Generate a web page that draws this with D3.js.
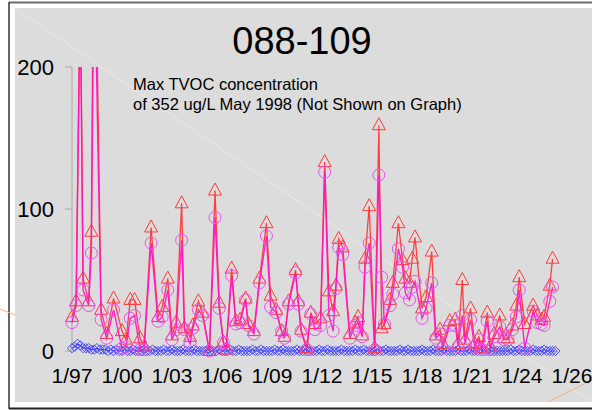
<!DOCTYPE html>
<html>
<head>
<meta charset="utf-8">
<script src="https://cdn.jsdelivr.net/npm/d3@7"></script>
<style>
  html, body { margin: 0; padding: 0; background: #fff; }
  svg { display: block; font-family: "Liberation Sans", Arial, sans-serif; }
</style>
</head>
<body>
<div id="chart"></div>
<script>
// Sampling dates shared by the two upper series
const sampleDates = [
  "1997-01","1997-04","1997-07","1997-09","1998-01","1998-03","1998-05","1998-10","1999-02","1999-07",
  "2000-01","2000-04","2000-07","2000-10","2001-02","2001-05","2001-10","2002-03","2002-06","2002-10",
  "2003-01","2003-04","2003-08","2003-10","2004-02","2004-04","2004-08","2004-11","2005-04","2005-08",
  "2005-11","2006-02","2006-04","2006-08","2006-11","2007-02","2007-06","2007-08","2007-12","2008-04",
  "2008-09","2008-12","2009-04","2009-08","2009-10","2010-01","2010-06","2010-08","2010-10","2011-02",
  "2011-05","2011-08","2011-12","2012-03","2012-06","2012-09","2012-11","2013-01","2013-04","2013-09",
  "2014-01","2014-03","2014-06","2014-08","2014-11","2015-03","2015-06","2015-08","2015-10","2016-02",
  "2016-04","2016-08","2016-11","2017-01","2017-04","2017-06","2017-08","2018-01","2018-04","2018-08",
  "2018-11","2019-02","2019-04","2019-09","2020-01","2020-03","2020-06","2020-08","2020-12","2021-03",
  "2021-06","2021-08","2021-12","2022-02","2022-05","2022-09","2022-12","2023-03","2023-06","2023-09",
  "2023-11","2024-03","2024-09","2024-12","2025-03","2025-05","2025-09","2025-11"
];
// red triangles
const triValues = [
  24, 35, 270, 51, 35, 84, 352, 29, 12, 37,
  14, 8, 36, 36, 9, 3, 87, 24, 31, 51,
  11, 20, 104, 16, 10, 18, 35, 27, 0, 113,
  34, 6, 1, 58, 21, 22, 37, 19, 14, 51,
  90, 39, 29, 14, 10, 35, 57, 35, 15, 2,
  27, 19, 23, 133, 42, 28, 46, 79, 73, 12,
  20, 24, 11, 65, 102, 2, 159, 16, 19, 36,
  48, 90, 64, 51, 48, 65, 80, 30, 38, 70,
  11, 15, 5, 21, 22, 5, 50, 8, 30, 5,
  10, 2, 27, 3, 12, 25, 9, 9, 18, 32,
  52, 19, 32, 25, 22, 24, 46, 65
];
// magenta circles
const circValues = [
  20, 32, 250, 43, 32, 69, 290, 22, 9, 29,
  2, 3, 23, 25, 1, 1, 76, 21, 24, 43,
  8, 15, 78, 15, 5, 16, 29, 25, 0, 94,
  30, 6, 1, 53, 19, 20, 36, 18, 12, 48,
  81, 31, 27, 14, 9, 33, 55, 33, 14, 1,
  26, 15, 18, 126, 25, 14, 44, 73, 68, 9,
  18, 20, 10, 59, 76, 1, 124, 52, 19, 32,
  40, 72, 59, 41, 36, 45, 49, 23, 30, 48,
  9, 12, 2, 18, 18, 3, 25, 5, 22, 3,
  8, 1, 21, 1, 10, 17, 8, 8, 15, 24,
  43, 2, 28, 20, 19, 18, 35, 45
];
// blue diamonds
const blueDates = [
  "1997-01","1997-03","1997-05","1997-07","1997-09","1997-11",
  "1998-01","1998-03","1998-05","1998-07","1998-09","1998-11",
  "1999-01","1999-03","1999-05","1999-07","1999-09","1999-11",
  "2000-01","2000-03","2000-05","2000-07","2000-09","2000-11",
  "2001-01","2001-03","2001-05","2001-07","2001-09","2001-11",
  "2002-01","2002-03","2002-05","2002-07","2002-09","2002-11",
  "2003-01","2003-03","2003-05","2003-07","2003-09","2003-11",
  "2004-01","2004-03","2004-05","2004-07","2004-09","2004-11",
  "2005-01","2005-03","2005-05","2005-07","2005-09","2005-11",
  "2006-01","2006-03","2006-05","2006-07","2006-09","2006-11",
  "2007-01","2007-03","2007-05","2007-07","2007-09","2007-11",
  "2008-01","2008-03","2008-05","2008-07","2008-09","2008-11",
  "2009-01","2009-03","2009-05","2009-07","2009-09","2009-11",
  "2010-01","2010-03","2010-05","2010-07","2010-09","2010-11",
  "2011-01","2011-03","2011-05","2011-07","2011-09","2011-11",
  "2012-01","2012-03","2012-05","2012-07","2012-09","2012-11",
  "2013-01","2013-03","2013-05","2013-07","2013-09","2013-11",
  "2014-01","2014-03","2014-05","2014-07","2014-09","2014-11",
  "2015-01","2015-03","2015-05","2015-07","2015-09","2015-11",
  "2016-01","2016-03","2016-05","2016-07","2016-09","2016-11",
  "2017-01","2017-03","2017-05","2017-07","2017-09","2017-11",
  "2018-01","2018-03","2018-05","2018-07","2018-09","2018-11",
  "2019-01","2019-03","2019-05","2019-07","2019-09","2019-11",
  "2020-01","2020-03","2020-05","2020-07","2020-09","2020-11",
  "2021-01","2021-03","2021-05","2021-07","2021-09","2021-11",
  "2022-01","2022-03","2022-05","2022-07","2022-09","2022-11",
  "2023-01","2023-03","2023-05","2023-07","2023-09","2023-11",
  "2024-01","2024-03","2024-05","2024-07","2024-09","2024-11",
  "2025-01","2025-03","2025-05","2025-07","2025-09","2025-11",
  "2026-01"
];
const blueValues = [
  2, 3, 5, 4, 2, 2,
  2, 1, 1, 2, 1, 1,
  1, 0, 1, 0, 1, 0,
  0, 1, 0, 0, 1, 0,
  0, 0, 1, 0, 0, 1,
  0, 0, 0, 1, 0, 0,
  1, 0, 0, 0, 1, 0,
  0, 0, 1, 0, 0, 0,
  0, 1, 0, 0, 0, 1,
  0, 0, 0, 1, 0, 0,
  1, 0, 0, 0, 0, 1,
  0, 0, 1, 0, 0, 0,
  0, 1, 0, 0, 1, 0,
  0, 0, 0, 1, 0, 0,
  1, 0, 0, 0, 0, 1,
  0, 0, 1, 0, 0, 0,
  0, 1, 0, 0, 0, 0,
  1, 0, 0, 1, 0, 0,
  0, 0, 1, 0, 0, 1,
  0, 0, 0, 0, 1, 0,
  0, 1, 0, 0, 0, 0,
  1, 0, 0, 0, 1, 0,
  0, 0, 1, 0, 0, 0,
  0, 1, 0, 0, 0, 1,
  0, 0, 0, 1, 0, 0,
  1, 0, 0, 0, 0, 0,
  0, 0, 1, 0, 0, 1,
  0, 0, 0, 0, 1, 0,
  0, 0, 1, 0, 0, 0,
  0
];
const yTicks = [0, 100, 200];
const xTickDates = ["1997-01","2000-01","2003-01","2006-01","2009-01","2012-01","2015-01","2018-01","2021-01","2024-01","2027-01"];
const xTickLabels = ["1/97","1/00","1/03","1/06","1/09","1/12","1/15","1/18","1/21","1/24","1/26"];

const W = 592, H = 410;
const parse = d3.timeParse("%Y-%m");

const svg = d3.select("#chart").append("svg")
  .attr("width", W).attr("height", H);

svg.append("rect").attr("width", W).attr("height", H).attr("fill", "#fff");

// page frame + grey panel
svg.append("rect")
  .attr("x", 15).attr("y", 8).attr("width", W - 15).attr("height", 394)
  .attr("fill", "#dcdcdc");
svg.append("line").attr("x1", 15).attr("y1", 8).attr("x2", W).attr("y2", 402)
  .attr("stroke", "#e8e8e8").attr("stroke-width", 1);
svg.append("line").attr("x1", 9).attr("y1", 2.5).attr("x2", W).attr("y2", 2.5)
  .attr("stroke", "#6a6a6a").attr("stroke-width", 2);
svg.append("line").attr("x1", 9).attr("y1", 2).attr("x2", 9).attr("y2", 409)
  .attr("stroke", "#333").attr("stroke-width", 1.5);
svg.append("line").attr("x1", 9).attr("y1", 408.5).attr("x2", W).attr("y2", 408.5)
  .attr("stroke", "#222").attr("stroke-width", 2);
// stray marks from the source page
svg.append("line").attr("x1", 0).attr("y1", 309).attr("x2", 15).attr("y2", 315)
  .attr("stroke", "#f4b27a").attr("stroke-width", 1);
svg.append("line").attr("x1", 548).attr("y1", 402).attr("x2", W).attr("y2", 380)
  .attr("stroke", "#f4b27a").attr("stroke-width", 1);

const x = d3.scaleTime()
  .domain([parse("1997-01"), parse("2027-01")])
  .range([72, 572]);
const y = d3.scaleLinear().domain([0, 200]).range([351, 67]);

// y axis
svg.append("line").attr("x1", 72).attr("x2", 72).attr("y1", 67).attr("y2", 351)
  .attr("stroke", "#a8a8a8");
svg.selectAll("line.ytick").data(yTicks).enter().append("line")
  .attr("class", "ytick")
  .attr("x1", 65).attr("x2", 72)
  .attr("y1", d => y(d)).attr("y2", d => y(d))
  .attr("stroke", "#a8a8a8");
svg.selectAll("text.ylab").data(yTicks).enter().append("text")
  .attr("class", "ylab")
  .attr("x", 54).attr("y", d => y(d))
  .attr("dy", "0.35em")
  .attr("text-anchor", "end")
  .attr("font-size", "22px")
  .text(d => d);

// x labels
svg.selectAll("text.xlab").data(xTickDates).enter().append("text")
  .attr("class", "xlab")
  .attr("x", d => x(parse(d)))
  .attr("y", 383)
  .attr("text-anchor", "middle")
  .attr("font-size", "21px")
  .text((d, i) => xTickLabels[i]);

// clip to plot area (values over 200 run off the top)
svg.append("defs").append("clipPath").attr("id", "plot")
  .append("rect").attr("x", 15).attr("y", 67).attr("width", W - 15).attr("height", 335);

const plot = svg.append("g").attr("clip-path", "url(#plot)");

const blue = blueDates.map((d, i) => ({ date: parse(d), v: blueValues[i] }));
const tri = sampleDates.map((d, i) => ({ date: parse(d), v: triValues[i] }));
const circ = sampleDates.map((d, i) => ({ date: parse(d), v: circValues[i] }));

const line = d3.line().x(d => x(d.date)).y(d => y(d.v));

// blue diamonds
plot.append("path").datum(blue).attr("d", line)
  .attr("fill", "none").attr("stroke", "#3030ff").attr("stroke-width", 1.2);
plot.selectAll("path.dia").data(blue).enter().append("path")
  .attr("class", "dia")
  .attr("d", d3.symbol().type(d3.symbolSquare).size(44))
  .attr("transform", d => `translate(${x(d.date)},${y(d.v)}) rotate(45)`)
  .attr("fill", "none").attr("stroke", "#4848ff").attr("stroke-width", 0.9);

// red triangles
plot.append("path").datum(tri).attr("d", line)
  .attr("fill", "none").attr("stroke", "#ff3030").attr("stroke-width", 1.3).attr("opacity", 0.9);
plot.selectAll("path.tri").data(tri).enter().append("path")
  .attr("class", "tri")
  .attr("d", "M0,-7.5L6.5,4.5L-6.5,4.5Z")
  .attr("transform", d => `translate(${x(d.date)},${y(d.v)})`)
  .attr("fill", "none").attr("stroke", "#ff3a3a").attr("stroke-width", 1);

// magenta circles
plot.append("path").datum(circ).attr("d", line)
  .attr("fill", "none").attr("stroke", "#ff10c8").attr("stroke-width", 1.4).attr("opacity", 0.9);
plot.selectAll("circle.c").data(circ).enter().append("circle")
  .attr("class", "c")
  .attr("cx", d => x(d.date)).attr("cy", d => y(d.v)).attr("r", 6)
  .attr("fill", "none").attr("stroke", "#e850f0").attr("stroke-width", 1);

// title + note
svg.append("text")
  .attr("x", 302).attr("y", 54)
  .attr("text-anchor", "middle")
  .attr("font-size", "38px")
  .text("088-109");

svg.append("text")
  .attr("x", 133).attr("y", 90)
  .attr("font-size", "16.5px")
  .text("Max TVOC concentration");
svg.append("text")
  .attr("x", 133).attr("y", 110)
  .attr("font-size", "16.5px")
  .text("of 352 ug/L May 1998 (Not Shown on Graph)");
</script>
</body>
</html>
